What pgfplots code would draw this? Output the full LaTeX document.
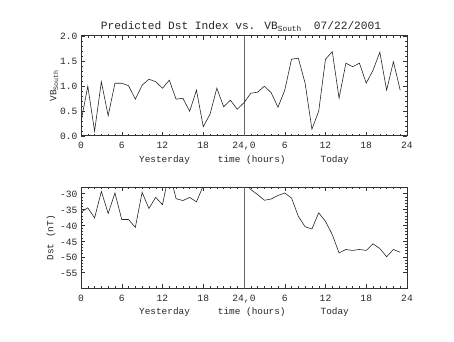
\documentclass[border=0pt]{standalone}
\usepackage{fontspec}
\setmainfont{Liberation Mono}
\usepackage{pgfplots}
\usepackage{pgfplotstable}
\pgfplotsset{compat=1.18}

\pgfplotstableread{
h v
0 0.28
1 0.99
2 0.09
3 1.08
4 0.40
5 1.05
6 1.05
7 1.00
8 0.73
9 1.01
10 1.13
11 1.08
12 0.95
13 1.11
14 0.73
15 0.75
16 0.49
17 0.91
18 0.18
19 0.43
20 0.95
21 0.58
22 0.71
23 0.53
24 0.66
25 0.85
26 0.87
27 0.99
28 0.86
29 0.57
30 0.91
31 1.53
32 1.55
33 1.05
34 0.13
35 0.49
36 1.53
37 1.68
38 0.75
39 1.45
40 1.38
41 1.45
42 1.05
43 1.31
44 1.67
45 0.91
46 1.48
47 0.91
}\vbdata

\pgfplotstableread{
h d
0 -35.9
1 -34.5
2 -37.7
3 -29.3
4 -36.3
5 -29.8
6 -38.2
7 -38.2
8 -40.7
9 -29.6
10 -34.7
11 -31.2
12 -33.5
13 -23.0
14 -31.6
15 -32.2
16 -31.2
17 -32.6
18 -27.5
19 -25.0
20 -24.0
21 -22.0
22 -23.0
23 -25.0
24 -26.5
25 -28.7
26 -30.3
27 -32.1
28 -31.7
29 -30.6
30 -29.8
31 -31.4
32 -37.2
33 -40.5
34 -41.2
35 -36.1
36 -38.8
37 -43.0
38 -48.8
39 -47.7
40 -48.0
41 -47.7
42 -48.0
43 -45.9
44 -47.4
45 -50.0
46 -47.7
47 -48.6
}\dstdata

\pgfplotsset{idl/.style={
  scale only axis, width=326pt, anchor=south west,
  xmin=0, xmax=48, xtick={0,6,...,48},
  xticklabels={0,6,12,18,{24,0},6,12,18,24},
  minor x tick num=5, minor y tick num=4,
  tick align=inside,
  major tick length=4pt, minor tick length=2pt,
  axis line style={black!80, line width=0.5pt},
  every tick/.style={black!80, line width=0.4pt},
  tick label style={font=\fontsize{9.6}{11}\selectfont, text=black!85},
  xticklabel style={yshift=-3pt},
  yticklabel style={yshift=-1pt},
  /pgf/number format/assume math mode=true,
  xlabel={Yesterday\hspace{28pt}time (hours)\hspace{35pt}Today},
  label style={font=\fontsize{9.4}{11}\selectfont, text=black!85},
  x label style={at={(axis description cs:0.5,-0.24)}, anchor=center},
  clip=true,
}}

\begin{document}
\begin{tikzpicture}[x=1pt,y=1pt]
\path[use as bounding box] (0,0) rectangle (454,341);
\node[anchor=base, text=black!85, font=\fontsize{11.2}{13}\selectfont] at (241,311.7)
  {Predicted Dst Index vs. VB\textsubscript{South}\hspace{12pt}07/22/2001};

\begin{axis}[idl, at={(81pt,205.3pt)}, height=100pt,
  ymin=0, ymax=2, ytick={0,0.5,...,2},
  yticklabel style={/pgf/number format/.cd, fixed, fixed zerofill, precision=1},
  ylabel={VB\textsubscript{South}},
  y label style={at={(axis description cs:-0.082,0.5)}, anchor=center},
]
\addplot[black!60, line width=0.4pt] coordinates {(24,0) (24,2)};
\addplot[black!85, line width=0.6pt] table[x=h, y=v] {\vbdata};
\end{axis}

\begin{axis}[idl, at={(81pt,52.7pt)}, height=101pt,
  ymin=-60, ymax=-28, ytick={-55,-50,...,-30},
  ylabel={Dst (nT)},
  y label style={at={(axis description cs:-0.092,0.5)}, anchor=center},
]
\addplot[black!60, line width=0.4pt] coordinates {(24,-60) (24,-28)};
\addplot[black!85, line width=0.6pt] table[x=h, y=d] {\dstdata};
\end{axis}
\end{tikzpicture}
\end{document}
